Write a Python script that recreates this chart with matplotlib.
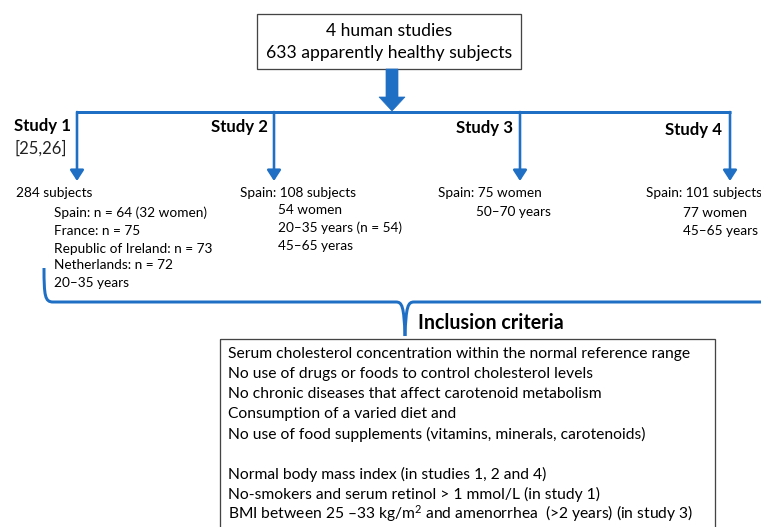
import matplotlib
matplotlib.use("Agg")
import matplotlib.pyplot as plt
from matplotlib.patches import Rectangle, Polygon, FancyArrowPatch, PathPatch
from matplotlib.path import Path

plt.rcParams["mathtext.fontset"] = "custom"
plt.rcParams["mathtext.rm"] = "Lato"
plt.rcParams["mathtext.it"] = "Lato:italic"
plt.rcParams["mathtext.bf"] = "Lato:bold"

# ---------------- data ----------------
header_lines = ["4 human studies", "633 apparently healthy subjects"]
study_titles = ["Study 1", "Study 2", "Study 3", "Study 4"]
study_refs = ["[25,26]", "", "", ""]
study_first = ["284 subjects", "Spain: 108 subjects", "Spain: 75 women", "Spain: 101 subjects"]
study_details = [
    ["Spain: n = 64 (32 women)", "France: n = 75", "Republic of Ireland: n = 73",
     "Netherlands: n = 72", "20\u201335 years"],
    ["54 women", "20\u201335 years (n = 54)", "45\u201365 yeras"],
    ["50\u201370 years"],
    ["77 women", "45\u201365 years"],
]
criteria_title = "Inclusion criteria"
criteria_general = [
    "Serum cholesterol concentration within the normal reference range",
    "No use of drugs or foods to control cholesterol levels",
    "No chronic diseases that affect carotenoid metabolism",
    "Consumption of a varied diet and",
    "No use of food supplements (vitamins, minerals, carotenoids)",
]
criteria_specific = [
    "Normal body mass index (in studies 1, 2 and 4)",
    "No-smokers and serum retinol > 1 mmol/L (in study 1)",
    "BMI between 25 \u201333 kg/m$^{2}$ and amenorrhea  (>2 years) (in study 3)",
]

# ---------------- layout ----------------
W, H = 761, 527
BLUE = "#1F6FC5"
FONT = "Lato"

fig = plt.figure(figsize=(W / 100, H / 100), dpi=100)
ax = fig.add_axes([0, 0, 1, 1])
ax.set_xlim(0, W)
ax.set_ylim(H, 0)
ax.axis("off")
renderer = fig.canvas.get_renderer()


def px(v):  # pixel width -> points
    return v * 72 / 100


def fit_size(s, target, weight="normal", base=10.0):
    t = ax.text(0, 0, s, fontsize=base, family=FONT, fontweight=weight)
    w = t.get_window_extent(renderer).width
    t.remove()
    return base * target / w


fs_header = fit_size(header_lines[1], 245)
fs_title = fit_size(study_titles[0], 57, "bold")
fs_ref = fit_size(study_refs[0], 53)
fs_study = fit_size(study_details[0][0], 152)
fs_incl = fit_size(criteria_title, 145, "bold")
fs_crit = fit_size(criteria_general[0], 462)

# header box
ax.add_patch(Rectangle((257, 14), 264, 55, fill=False, ec="#444444", lw=px(1.3)))
for i, t in enumerate(header_lines):
    ax.text(389, 31 + i * 22, t, ha="center", va="center", fontsize=fs_header,
            family=FONT, color="black")

# thick down arrow
ax.add_patch(Polygon([(386, 69), (398, 69), (398, 97), (405, 97), (392, 111),
                      (379, 97), (386, 97)], closed=True, fc=BLUE, ec=BLUE, lw=0.5))

# horizontal bar and study arrows
arrow_x = [77, 274, 520, 730]
ax.plot([arrow_x[0] - 1, arrow_x[-1] + 1], [112, 112], color=BLUE, lw=px(3),
        solid_capstyle="butt")
for x in arrow_x:
    ax.add_patch(FancyArrowPatch((x, 112), (x, 181),
                                 arrowstyle="-|>,head_length=4,head_width=2.6",
                                 color=BLUE, lw=px(2.6), mutation_scale=1.6,
                                 shrinkA=0, shrinkB=0))

# study titles
title_pos = [(14, 126, "left"), (268, 127, "right"), (513, 128, "right"), (722, 130, "right")]
for (x, y, ha), t in zip(title_pos, study_titles):
    ax.text(x, y, t, ha=ha, va="center", fontsize=fs_title, fontweight="bold",
            family=FONT, color="black")
ax.text(14, 148, study_refs[0], ha="left", va="center", fontsize=fs_ref,
        family=FONT, color="#222222")

# study details
first_pos = [(16, 193), (240, 193), (438, 193), (646, 193)]
indent_x = [54, 278, 476, 683]
detail_y = [[213, 231, 249, 265, 283], [210, 228, 246], [212], [213, 231]]
for k in range(4):
    fx, fy = first_pos[k]
    ax.text(fx, fy, study_first[k], ha="left", va="center", fontsize=fs_study,
            family=FONT, color="black")
    for t, y in zip(study_details[k], detail_y[k]):
        ax.text(indent_x[k], y, t, ha="left", va="center", fontsize=fs_study,
                family=FONT, color="black")

# brace
yb = 302
tipx, tipy = 405, 336
verts = [
    (44, 268), (44, 296), (45, yb), (53, yb),
    (396, yb),
    (402, yb), (404, yb + 4), (tipx, tipy),
]
codes = [Path.MOVETO, Path.CURVE4, Path.CURVE4, Path.CURVE4,
         Path.LINETO,
         Path.CURVE4, Path.CURVE4, Path.CURVE4]
verts2 = [(tipx, tipy), (406, yb + 4), (408, yb), (414, yb), (W + 2, yb)]
codes2 = [Path.MOVETO, Path.CURVE4, Path.CURVE4, Path.CURVE4, Path.LINETO]
ax.add_patch(PathPatch(Path(verts, codes), fill=False, ec=BLUE, lw=px(3),
                       capstyle="butt", joinstyle="round"))
ax.add_patch(PathPatch(Path(verts2, codes2), fill=False, ec=BLUE, lw=px(3),
                       capstyle="butt", joinstyle="round"))

ax.text(418, 323, criteria_title, ha="left", va="center", fontsize=fs_incl,
        fontweight="bold", family=FONT, color="black")

# criteria box (extends below the figure)
ax.add_patch(Rectangle((220, 339), 495, 200, fill=False, ec="#444444", lw=px(1.3)))
for i, t in enumerate(criteria_general):
    ax.text(228, 354 + 20 * i, t, ha="left", va="center", fontsize=fs_crit,
            family=FONT, color="black")
for i, t in enumerate(criteria_specific):
    ax.text(228, 474 + 20 * i, t, ha="left", va="center", fontsize=fs_crit,
            family=FONT, color="black")

fig.savefig("out.png", dpi=100)
